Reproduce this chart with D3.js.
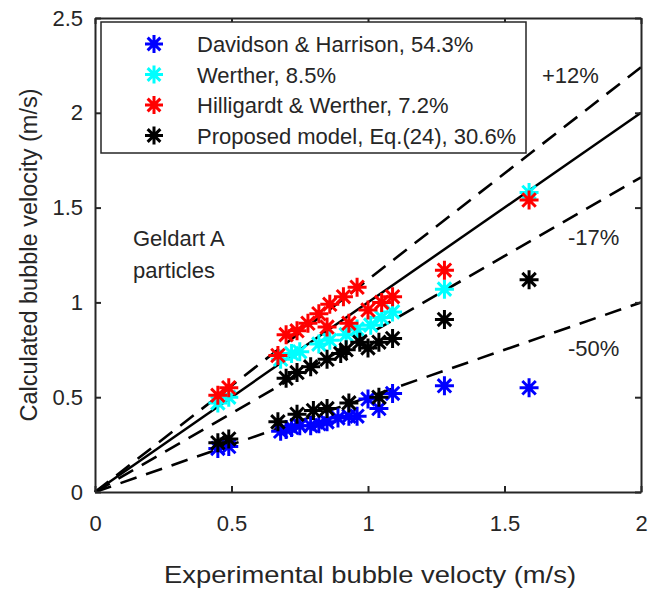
<!DOCTYPE html>
<html>
<head>
<meta charset="utf-8">
<script src="https://cdn.jsdelivr.net/npm/d3@7"></script>
<style>
  body { margin: 0; background: #fff; }
  text { font-family: Arial, "Liberation Sans", sans-serif; fill: #262626; }
</style>
</head>
<body>
<div id="chart"></div>
<script>
// series data, [experimental, calculated] in m/s
var davidson = [
    [0.45, 0.23], [0.49, 0.24],
    [0.68, 0.32], [0.70, 0.33], [0.72, 0.34], [0.75, 0.35], [0.79, 0.35], [0.82, 0.36],
    [0.85, 0.37], [0.89, 0.39], [0.93, 0.40], [0.96, 0.40], [1.00, 0.49], [1.04, 0.44], [1.09, 0.52],
    [1.28, 0.56], [1.59, 0.55]
];
var werther = [
    [0.45, 0.47], [0.49, 0.50],
    [0.68, 0.70], [0.72, 0.73], [0.75, 0.74], [0.82, 0.78], [0.86, 0.80], [0.92, 0.83],
    [0.96, 0.86], [1.01, 0.88], [1.05, 0.92], [1.09, 0.95],
    [1.28, 1.07], [1.59, 1.58]
];
var hilligardt = [
    [0.45, 0.51], [0.49, 0.55],
    [0.67, 0.72], [0.70, 0.83], [0.74, 0.85], [0.78, 0.89], [0.82, 0.94], [0.85, 0.87],
    [0.86, 0.99], [0.91, 1.03], [0.93, 0.89], [0.96, 1.08], [1.00, 0.96], [1.05, 1.00], [1.09, 1.03],
    [1.28, 1.17], [1.59, 1.54]
];
var proposed = [
    [0.45, 0.26], [0.49, 0.28],
    [0.67, 0.37], [0.74, 0.41], [0.80, 0.43], [0.85, 0.44], [0.93, 0.47], [1.04, 0.50],
    [0.70, 0.60], [0.74, 0.63], [0.79, 0.66], [0.85, 0.70], [0.90, 0.73], [0.92, 0.75],
    [0.97, 0.79], [1.00, 0.76], [1.04, 0.79], [1.09, 0.81],
    [1.28, 0.91], [1.59, 1.12]
];

var seriesNames = ['Davidson & Harrison, 54.3%', 'Werther, 8.5%', 'Hilligardt & Werther, 7.2%', 'Proposed model, Eq.(24), 30.6%'];
var seriesColors = ['#0000ff', '#00ffff', '#ff0000', '#000000'];

// reference lines: slope and label
var refSlopes = [1.12, 0.83, 0.5];
var refLabels = ['+12%', '-17%', '-50%'];

var xTicks = [0, 0.5, 1, 1.5, 2];
var yTicks = [0, 0.5, 1, 1.5, 2, 2.5];

var svgWidth = 648;
var svgHeight = 589;
var plotLeft = 95, plotTop = 18, plotRight = 641, plotBottom = 492;

var svg = d3.select('#chart')
    .append('svg')
    .attr('width', svgWidth)
    .attr('height', svgHeight);

var x = d3.scaleLinear().domain([0, 2]).range([plotLeft, plotRight]);
var y = d3.scaleLinear().domain([0, 2.5]).range([plotBottom, plotTop]);

// lines
var line = d3.line().x(d => x(d[0])).y(d => y(d[1]));

svg.append('path')
    .attr('d', line([[0, 0], [2, 2]]))
    .attr('stroke', '#000')
    .attr('stroke-width', 2.5)
    .attr('fill', 'none');

refSlopes.forEach(function(s) {
    var xEnd = Math.min(2, 2.5 / s);
    svg.append('path')
        .attr('d', line([[0, 0], [xEnd, xEnd * s]]))
        .attr('stroke', '#000')
        .attr('stroke-width', 2.6)
        .attr('stroke-dasharray', '17,10')
        .attr('fill', 'none');
});

// asterisk marker
function star(r) {
    var d = r * Math.SQRT1_2;
    return `M${-r},0L${r},0M0,${-r}L0,${r}M${-d},${-d}L${d},${d}M${-d},${d}L${d},${-d}`;
}

var allSeries = [davidson, werther, hilligardt, proposed];
allSeries.forEach(function(data, i) {
    svg.append('g')
        .selectAll('path')
        .data(data)
        .enter()
        .append('path')
        .attr('transform', d => `translate(${x(d[0])},${y(d[1])})`)
        .attr('d', star(9.5))
        .attr('stroke', seriesColors[i])
        .attr('stroke-width', 3)
        .attr('fill', 'none');
});

// axes with inward ticks on all four sides
var axisColor = '#262626';
var tickLen = 6;

var xAxis = d3.axisBottom(x).tickValues(xTicks).tickSizeInner(-tickLen).tickSizeOuter(0)
    .tickFormat(d3.format('~g')).tickPadding(23);
var yAxis = d3.axisLeft(y).tickValues(yTicks).tickSizeInner(-tickLen).tickSizeOuter(0)
    .tickFormat(d3.format('~g')).tickPadding(12);

var gx = svg.append('g').attr('transform', `translate(0,${plotBottom})`).call(xAxis);
var gy = svg.append('g').attr('transform', `translate(${plotLeft},0)`).call(yAxis);
var gxt = svg.append('g').attr('transform', `translate(0,${plotTop})`)
    .call(d3.axisTop(x).tickValues(xTicks).tickSizeInner(-tickLen).tickSizeOuter(0).tickFormat(''));
var gyr = svg.append('g').attr('transform', `translate(${plotRight},0)`)
    .call(d3.axisRight(y).tickValues(yTicks).tickSizeInner(-tickLen).tickSizeOuter(0).tickFormat(''));

[gx, gy, gxt, gyr].forEach(function(g) {
    g.select('.domain').attr('stroke', axisColor).attr('stroke-width', 2);
    g.selectAll('.tick line').attr('stroke', axisColor).attr('stroke-width', 2);
    g.selectAll('.tick text')
        .attr('fill', axisColor)
        .style('font-size', '22px')
        .style('font-family', 'Arial, "Liberation Sans", sans-serif');
});

// axis labels
svg.append('text')
    .attr('x', 370)
    .attr('y', 583)
    .attr('text-anchor', 'middle')
    .attr('textLength', 412)
    .attr('lengthAdjust', 'spacingAndGlyphs')
    .style('font-size', '24px')
    .text('Experimental bubble velocty (m/s)');

svg.append('text')
    .attr('transform', `translate(37,${(plotTop + plotBottom) / 2}) rotate(-90)`)
    .attr('text-anchor', 'middle')
    .style('font-size', '23.5px')
    .text('Calculated bubble velocity (m/s)');

// annotations
var labelPos = [[542, 83], [568, 245], [568, 356]];
refLabels.forEach(function(t, i) {
    svg.append('text')
        .attr('x', labelPos[i][0])
        .attr('y', labelPos[i][1])
        .style('font-size', '22px')
        .text(t);
});

svg.append('text')
    .attr('x', 133)
    .attr('y', 246)
    .style('font-size', '22px')
    .text('Geldart A');
svg.append('text')
    .attr('x', 133)
    .attr('y', 278)
    .style('font-size', '22px')
    .text('particles');

// legend
var legend = svg.append('g');
legend.append('rect')
    .attr('x', 101)
    .attr('y', 22)
    .attr('width', 425)
    .attr('height', 131)
    .attr('fill', '#fff')
    .attr('stroke', '#262626')
    .attr('stroke-width', 1.5);

seriesNames.forEach(function(name, i) {
    var cy = 44 + i * 30.5;
    legend.append('path')
        .attr('transform', `translate(154,${cy})`)
        .attr('d', star(9))
        .attr('stroke', seriesColors[i])
        .attr('stroke-width', 3)
        .attr('fill', 'none');
    legend.append('text')
        .attr('x', 197)
        .attr('y', cy + 8)
        .style('font-size', '22px')
        .text(name);
});
</script>
</body>
</html>
